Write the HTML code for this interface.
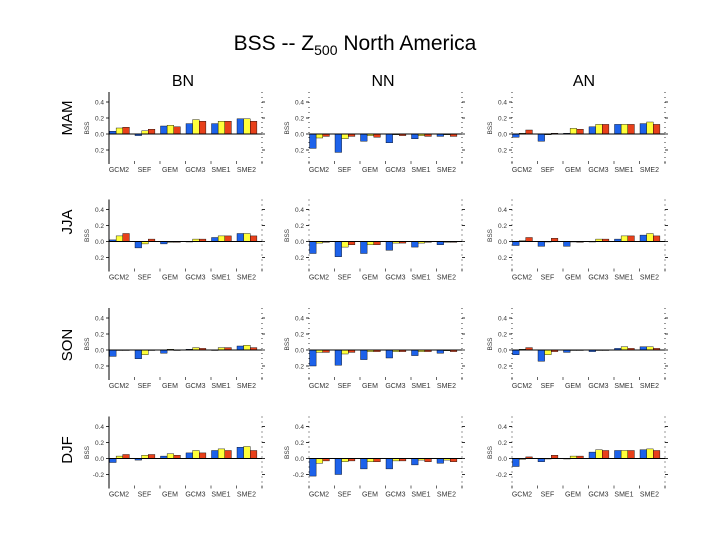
<!DOCTYPE html>
<html><head><meta charset="utf-8"><style>
body{margin:0;background:#fff;}
svg{display:block;font-family:"Liberation Sans",sans-serif;}
</style></head><body>
<svg id="c" width="720" height="540">
<text x="355" y="50" text-anchor="middle" font-size="21">BSS -- Z<tspan font-size="14" dy="5">500</tspan><tspan dy="-5"> North America</tspan></text>
</svg>
<script>
const models = ["GCM2","SEF","GEM","GCM3","SME1","SME2"];
const cols = ["BN","NN","AN"];
const seasons = ["MAM","JJA","SON","DJF"];
const yTicks = [0.4,0.2,0.0,-0.2];
const yTickLabels = ["0.4","0.2","0.0","0.2"];
const yTickLabelsDJF = ["0.4","0.2","0.0","-0.2"];
// values[season][col] = [blue..., yellow..., red...] per model as [b,y,r]
const mamBN=[[0.035,0.075,0.085],[-0.02,0.04,0.06],[0.10,0.11,0.09],[0.13,0.18,0.16],[0.13,0.16,0.16],[0.19,0.19,0.16]];
const mamNN=[[-0.18,-0.05,-0.03],[-0.23,-0.06,-0.03],[-0.09,-0.02,-0.04],[-0.11,-0.01,-0.02],[-0.06,-0.02,-0.03],[-0.03,-0.01,-0.03]];
const mamAN=[[-0.04,0.01,0.05],[-0.09,-0.01,0.01],[0.01,0.07,0.06],[0.09,0.12,0.12],[0.12,0.12,0.12],[0.13,0.15,0.12]];
const jjaBN=[[0.02,0.07,0.10],[-0.08,-0.03,0.03],[-0.03,-0.01,-0.01],[0.0,0.03,0.03],[0.05,0.07,0.07],[0.10,0.10,0.07]];
const jjaNN=[[-0.15,-0.02,-0.01],[-0.19,-0.07,-0.04],[-0.15,-0.04,-0.04],[-0.11,-0.02,-0.02],[-0.07,-0.02,-0.01],[-0.04,-0.01,-0.01]];
const jjaAN=[[-0.05,0.01,0.05],[-0.06,0.0,0.04],[-0.06,0.0,-0.01],[0.0,0.03,0.03],[0.03,0.07,0.07],[0.08,0.10,0.07]];
const sonBN=[[-0.08,0.0,0.0],[-0.11,-0.06,0.0],[-0.04,0.01,0.0],[0.01,0.03,0.02],[0.0,0.03,0.03],[0.05,0.06,0.03]];
const sonNN=[[-0.20,-0.03,-0.03],[-0.19,-0.05,-0.03],[-0.12,-0.02,-0.02],[-0.10,-0.02,-0.02],[-0.07,-0.02,-0.02],[-0.04,-0.01,-0.02]];
const sonAN=[[-0.06,0.01,0.03],[-0.14,-0.06,-0.02],[-0.03,0.0,0.0],[-0.02,0.0,0.0],[0.02,0.04,0.02],[0.04,0.04,0.02]];
const djfBN=[[-0.05,0.03,0.05],[-0.02,0.04,0.05],[0.03,0.06,0.04],[0.07,0.10,0.07],[0.10,0.12,0.10],[0.14,0.15,0.10]];
const djfNN=[[-0.22,-0.06,-0.03],[-0.20,-0.04,-0.03],[-0.13,-0.04,-0.04],[-0.13,-0.03,-0.03],[-0.08,-0.02,-0.04],[-0.06,-0.02,-0.04]];
const djfAN=[[-0.10,-0.01,0.02],[-0.04,0.0,0.04],[0.0,0.03,0.03],[0.08,0.11,0.10],[0.10,0.10,0.10],[0.11,0.12,0.10]];
const values=[[mamBN,mamNN,mamAN],[jjaBN,jjaNN,jjaAN],[sonBN,sonNN,sonAN],[djfBN,djfNN,djfAN]];

const NS="http://www.w3.org/2000/svg";
const svg=document.getElementById('c');
function mk(tag,attrs,parent){const e=document.createElementNS(NS,tag);for(const k in attrs)e.setAttribute(k,attrs[k]);(parent||svg).appendChild(e);return e;}
const colLeft=[109,309,512], plotW=153;
const rowZero=[134,241.5,350,458.5], scale=80;
const barColors=["#1d62ea","#ffff3a","#e8401a"];
const colX=[183,383,584], rowY=[118,222,345,450];

cols.forEach((c,i)=>{const t=mk('text',{x:colX[i],y:86,'text-anchor':'middle','font-size':16});t.textContent=c;

});
seasons.forEach((s,i)=>{const t=mk('text',{x:0,y:0,'text-anchor':'middle','font-size':15,transform:`translate(72,${rowY[i]}) rotate(-90)`});t.textContent=s;

});

for(let r=0;r<4;r++)for(let c=0;c<3;c++){
  const g=mk('g',{});
  
  
  const L=colLeft[c], z=rowZero[r], top=z-42, bot=z+30, R=L+plotW;
  const y=v=>z-v*scale;
  const gs=plotW/6, bw=gs*0.26;
  const vals=values[r][c];
  vals.forEach((trip,m)=>{trip.forEach((v,k)=>{
    const x=L+m*gs+k*bw+0.5;
    const b=mk('rect',{x:x,y:Math.min(y(v),z),width:bw,height:Math.max(Math.abs(y(v)-z),0.5),fill:barColors[k],stroke:'#000','stroke-width':0.4},g);
    
    
  });
    const t=mk('text',{x:L+m*gs+bw*1.5,y:bot+8,'text-anchor':'middle','font-size':7,fill:'#333'},g);t.textContent=models[m];
    
    
  });
  mk('line',{x1:L,x2:R,y1:z,y2:z,stroke:'#000','stroke-width':1},g);
  if(c===0) mk('line',{x1:L,x2:L,y1:top,y2:bot,stroke:'#000','stroke-width':1},g);
  else mk('line',{x1:L,x2:L,y1:top,y2:bot,stroke:'#000','stroke-width':0.8,'stroke-dasharray':'1 4'},g);
  mk('line',{x1:R,x2:R,y1:top,y2:bot,stroke:'#000','stroke-width':0.8,'stroke-dasharray':'1 4'},g);
  const labs=r===3?yTickLabelsDJF:yTickLabels;
  yTicks.forEach((v,i)=>{
    mk('line',{x1:L-3,x2:L,y1:y(v),y2:y(v),stroke:'#000','stroke-width':0.8},g);
    mk('line',{x1:R,x2:R+3,y1:y(v),y2:y(v),stroke:'#000','stroke-width':0.8},g);
    const t=mk('text',{x:L-5,y:y(v)+2.5,'text-anchor':'end','font-size':6.5,fill:'#333'},g);t.textContent=labs[i];
    
    
  });
  for(let m=0;m<=6;m++) mk('line',{x1:L+m*gs,x2:L+m*gs,y1:bot,y2:bot-3,stroke:'#000','stroke-width':0.6},g);
  const yl=mk('text',{x:0,y:0,'text-anchor':'middle','font-size':6.5,fill:'#333',transform:`translate(${L-20},${z-6}) rotate(-90)`},g);yl.textContent='BSS';
  
  
}
</script>
</body></html>
